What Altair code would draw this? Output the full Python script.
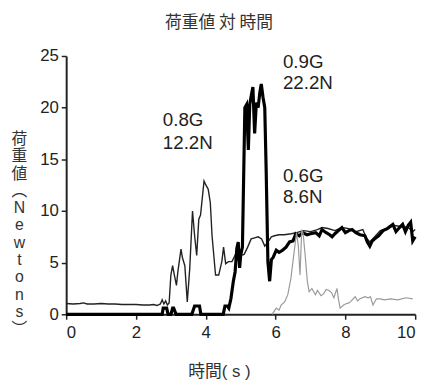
import altair as alt
import pandas as pd

# 0.8G series (thin black line)
t_08 = [0, 0.2, 0.4, 0.5, 0.6, 0.8, 1.0, 1.2, 1.4, 1.6, 1.8, 2.0, 2.2, 2.4, 2.5, 2.6, 2.7, 2.75, 2.8, 2.85,
        2.9, 2.95, 3.0, 3.05, 3.1, 3.16, 3.2, 3.29, 3.33, 3.4, 3.47, 3.54, 3.62, 3.68, 3.74, 3.8, 3.85, 3.95,
        3.99, 4.07, 4.13, 4.18, 4.28, 4.37, 4.46, 4.51, 4.57, 4.65, 4.75, 4.84, 4.93, 5.0, 5.1, 5.2, 5.3, 5.4,
        5.5, 5.6, 5.69, 5.78, 5.88, 5.97, 6.1, 6.25, 6.45, 6.6, 6.8, 7.0, 7.2, 7.33, 7.5, 7.7, 7.9, 8.1, 8.3,
        8.5, 8.6, 8.7, 8.84, 9.0, 9.2, 9.4, 9.6, 9.8, 9.93, 10.0]
v_08 = [1.05, 1.0, 1.05, 1.1, 1.0, 1.0, 1.05, 1.0, 1.0, 0.95, 0.95, 0.95, 0.9, 0.9, 0.95, 0.85, 1.0, 1.4, 1.0, 1.3,
        0.9, 1.1, 3.8, 4.7, 3.8, 2.8, 4.1, 6.3, 5.5, 4.7, 1.2, 4.4, 10.0, 7.6, 5.7, 9.2, 9.6, 12.9,
        12.6, 12.1, 10.8, 7.6, 3.8, 3.8, 5.1, 6.5, 4.9, 5.1, 5.1, 5.7, 6.6, 5.7, 5.8, 6.5, 7.3, 7.4,
        7.5, 7.3, 6.6, 7.0, 7.5, 7.6, 7.7, 7.7, 7.8, 7.9, 8.1, 8.0, 8.2, 8.4, 8.3, 8.1, 8.4, 8.3, 8.0,
        8.2, 7.4, 7.0, 7.5, 8.1, 8.3, 8.6, 8.5, 8.4, 8.0, 8.2]

# 0.9G series (thick black line)
t_09 = [0, 2.75, 2.78, 2.88, 2.92, 3.0, 3.05, 3.08, 3.15, 3.2, 3.6, 3.68, 3.72, 3.82, 3.86, 4.5, 4.55, 4.62,
        4.66, 4.72, 4.79, 4.84, 4.89, 4.93, 4.97, 5.0, 5.05, 5.12, 5.17, 5.22, 5.26, 5.31, 5.35, 5.4, 5.45,
        5.5, 5.55, 5.59, 5.64, 5.69, 5.73, 5.78, 5.83, 5.88, 5.93, 6.02, 6.1, 6.2, 6.3, 6.4, 6.5, 6.58, 6.68,
        6.77, 6.9, 7.0, 7.15, 7.25, 7.33, 7.45, 7.55, 7.62, 7.7, 7.8, 7.9, 8.0, 8.1, 8.19, 8.3, 8.42, 8.56,
        8.63, 8.7, 8.77, 8.84, 8.95, 9.08, 9.2, 9.36, 9.45, 9.55, 9.64, 9.72, 9.8, 9.87, 9.93, 10.0]
v_09 = [0, 0, 0.6, 0.6, 0, 0, 0.6, 0.6, 0, 0, 0, 0.8, 0.8, 0.8, 0, 0, 0.8, 0.8,
        0.6, 1.5, 3.2, 4.1, 6.4, 7.0, 4.5, 5.7, 6.5, 20.0, 20.3, 15.9, 20.3, 21.3, 22.0, 17.5, 20.5,
        20.0, 21.5, 22.3, 21.0, 20.0, 14.0, 5.1, 3.2, 5.3, 5.5, 6.2, 6.0, 6.2, 6.5, 7.0, 7.1, 7.8, 7.6,
        7.9, 7.7, 7.8, 7.9, 7.6, 8.2, 7.9, 7.7, 7.5, 7.8, 8.1, 8.4, 7.9, 8.1, 8.2, 7.9, 7.7, 7.6,
        7.0, 6.6, 7.1, 7.3, 7.6, 8.1, 8.3, 8.7, 8.0, 8.4, 8.7, 8.0, 8.6, 8.9, 7.1, 7.5]

# 0.6G series (gray line)
t_06 = [5.9, 6.02, 6.1, 6.16, 6.26, 6.35, 6.44, 6.53, 6.6, 6.65, 6.7, 6.75, 6.79, 6.84, 6.91, 6.96, 7.04, 7.14,
        7.2, 7.3, 7.38, 7.45, 7.53, 7.6, 7.67, 7.76, 7.8, 7.85, 7.95, 8.0, 8.1, 8.14, 8.28, 8.35, 8.42, 8.56,
        8.65, 8.72, 8.79, 8.89, 9.0, 9.12, 9.3, 9.5, 9.74, 9.93]
v_06 = [0.0, 0.6, 0.4, 0.9, 1.2, 1.9, 3.5, 6.0, 7.9, 6.7, 3.8, 8.2, 7.8, 6.0, 3.2, 2.2, 2.5, 1.9,
        2.3, 1.8, 2.0, 2.4, 2.3, 2.1, 1.6, 2.5, 1.5, 0.6, 0.9, 1.0, 1.1, 1.2, 1.7, 1.3, 1.5, 1.7,
        1.6, 1.7, 0.9, 1.5, 1.5, 1.4, 1.5, 1.4, 1.6, 1.5]

# annotations
ann_text = ["0.8G", "12.2N", "0.9G", "22.2N", "0.6G", "8.6N"]
ann_t = [2.77, 2.77, 6.21, 6.21, 6.21, 6.21]
ann_v = [18.8, 16.6, 24.4, 22.4, 13.4, 11.3]

x_ticks = [0, 2, 4, 6, 8, 10]
y_ticks = [0, 5, 10, 15, 20, 25]

title_text = "荷重値 対 時間"
x_title = "時間( s )"
y_title = ["荷", "重", "値", "︵", "N", "e", "w", "t", "o", "n", "s", "︶"]

LATIN = "Liberation Sans, Arial, Noto Sans CJK JP"
CJK = "Noto Sans CJK JP"

df08 = pd.DataFrame({"t": t_08, "v": v_08})
df09 = pd.DataFrame({"t": t_09, "v": v_09})
df06 = pd.DataFrame({"t": t_06, "v": v_06})
dfa = pd.DataFrame({"t": ann_t, "v": ann_v, "label": ann_text})

xs = alt.Scale(domain=[0, 10], nice=False, zero=False)
ys = alt.Scale(domain=[0, 25], nice=False)

x_axis = alt.Axis(values=x_ticks, title=x_title, titleX=155, titleY=58,
                  titleAlign="center", titleBaseline="middle", labelPadding=6)
y_axis = alt.Axis(values=y_ticks, title=y_title, titleAngle=0, titleX=-48, titleY=76,
                  titleAlign="center", titleBaseline="top", titleLineHeight=17.5,
                  titleFontSize=16, labelPadding=3)

base_x = alt.X("t:Q", scale=xs, axis=x_axis)
base_y = alt.Y("v:Q", scale=ys, axis=y_axis)

l08 = alt.Chart(df08).mark_line(color="#222222", strokeWidth=1.4).encode(x=base_x, y=base_y, order="t:Q")
l09 = alt.Chart(df09).mark_line(color="#000000", strokeWidth=3.2).encode(
    x=alt.X("t:Q", scale=xs), y=alt.Y("v:Q", scale=ys), order="t:Q")
l06 = alt.Chart(df06).mark_line(color="#9a9a9a", strokeWidth=1.2).encode(
    x=alt.X("t:Q", scale=xs), y=alt.Y("v:Q", scale=ys), order="t:Q")
txt = alt.Chart(dfa).mark_text(align="left", baseline="middle", font=LATIN, fontSize=19,
                               color="#222222").encode(
    x=alt.X("t:Q", scale=xs), y=alt.Y("v:Q", scale=ys), text="label:N")

chart = alt.layer(l08, l09, l06, txt).properties(
    width=354, height=262,
    autosize=alt.AutoSizeParams(type="none"),
    padding={"left": 59, "top": 46, "right": 13, "bottom": 67},
    title=alt.TitleParams(title_text, anchor="middle", dx=-22, offset=15, fontSize=17,
                          font=CJK, fontWeight="normal", color="#333333"),
).configure_view(stroke=None).configure_axis(
    grid=False, domainColor="#222222", domainWidth=2, tickColor="#222222", tickWidth=1.5,
    tickSize=5, labelFont=LATIN, labelFontSize=17, labelColor="#222222",
    titleFont=LATIN, titleFontSize=17, titleFontWeight="normal", titleColor="#333333",
)

chart.save("out.html", embed_options={"renderer": "svg", "actions": False})
